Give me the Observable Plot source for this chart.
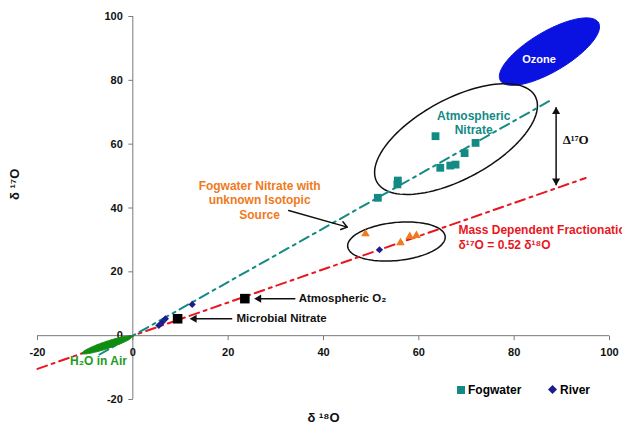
<!DOCTYPE html>
<html><head><meta charset="utf-8">
<script src="https://cdn.jsdelivr.net/npm/d3@7"></script>
<script src="https://cdn.jsdelivr.net/npm/@observablehq/plot@0.6"></script>
<style>
body{margin:0;background:#fff;font-family:"Liberation Sans",Arial,sans-serif;}
#chart{position:relative;width:622px;height:435px;overflow:hidden;}
.lg{position:absolute;top:382px;font-size:12px;font-weight:bold;color:#000;line-height:16px;white-space:nowrap;}
.sw{display:inline-block;vertical-align:middle;margin-right:3px;position:relative;top:-1px;}
</style></head><body><div id="chart"></div>
<script>
// ---- data ----
const xTicks = [-20, 0, 20, 40, 60, 80, 100];
const yTicks = [-20, 0, 20, 40, 60, 80, 100];

const fogwaterX = [51.4, 55.6, 55.5, 63.5, 64.5, 66.6, 67.7, 69.6, 71.9];
const fogwaterY = [43.2, 48.6, 47.4, 62.5, 52.6, 53.3, 53.6, 57.2, 60.4];

const riverX = [5.45, 6.15, 6.85, 12.45, 51.75];
const riverY = [3.2, 4.2, 5.3, 9.8, 26.9];

const unknownX = [48.8, 56.15, 58.1, 59.5];
const unknownY = [31.9, 29.1, 31.1, 31.4];

const sourceNames = ["Atmospheric O₂", "Microbial Nitrate"];
const sourceX = [23.5, 9.4];
const sourceY = [11.6, 5.3];

const atmLineX = [-7, 88.2];
const atmLineY = [-5.9, 74.2];
const mdfLineX = [-20, 95];
const mdfLineY = [-10.4, 49.4];

// ---- layout ----
const W = 622, H = 435, ML = 37, MR = 13, MT = 16, MB = 36;
const kx = (W - ML - MR) / 120, ky = (H - MT - MB) / 120; // px per unit

const teal = "#138a84", red = "#e8171f", orange = "#f07a1c", navy = "#1c1c8e", green = "#108c10", blue = "#0a12e2";

// annotation ellipses: centre in data units, semi-axes in px, tilt in degrees
const ellipses = [
  {name: "ozone", cx: 87.4, cy: 89.0, a: 57, b: 20, angle: 30.6},
  {name: "nitrate", cx: 67.8, cy: 61.6, a: 90, b: 40, angle: 28.4},
  {name: "fog", cx: 55.3, cy: 29.5, a: 49, b: 19, angle: 5.9},
  {name: "water", cx: -5.4, cy: -2.9, a: 26.4, b: 3.6, angle: 18.5}
];
function outline(e) {
  const th = e.angle * Math.PI / 180, pts = [];
  for (let i = 0; i <= 120; i++) {
    const t = 2 * Math.PI * i / 120;
    const dx = e.a * Math.cos(t) * Math.cos(th) + e.b * Math.sin(t) * Math.sin(th);
    const dy = -e.a * Math.cos(t) * Math.sin(th) + e.b * Math.sin(t) * Math.cos(th);
    pts.push({x: e.cx + dx / kx, y: e.cy - dy / ky});
  }
  return pts;
}
const E = Object.fromEntries(ellipses.map(e => [e.name, outline(e)]));

const fog = fogwaterX.map((x, i) => ({x, y: fogwaterY[i]}));
const river = riverX.map((x, i) => ({x, y: riverY[i]}));
const unknown = unknownX.map((x, i) => ({x, y: unknownY[i]}));
const sources = sourceNames.map((n, i) => ({name: n, x: sourceX[i], y: sourceY[i]}));
const atmLine = atmLineX.map((x, i) => ({x, y: atmLineY[i]}));
const mdfLine = mdfLineX.map((x, i) => ({x, y: mdfLineY[i]}));

const bold = {fontWeight: "bold", fontSize: 12};
const dash = "10,5,3,5";

const chart = Plot.plot({
  width: W, height: H,
  marginLeft: ML, marginRight: MR, marginTop: MT, marginBottom: MB,
  x: {domain: [-20, 100], axis: null},
  y: {domain: [-20, 100], axis: null},
  style: {fontFamily: "Liberation Sans, Arial, sans-serif", background: "white", overflow: "hidden"},
  marks: [
    // axes through the origin
    Plot.ruleY([0], {x1: -20, x2: 100, stroke: "#7a7a7a", strokeWidth: 1}),
    Plot.ruleX([0], {y1: -20, y2: 100, stroke: "#7a7a7a", strokeWidth: 1}),
    Plot.link(xTicks, {x1: d => d, x2: d => d, y1: 0, y2: -4.5 / ky, stroke: "#7a7a7a"}),
    Plot.link(yTicks, {y1: d => d, y2: d => d, x1: 0, x2: -4.5 / kx, stroke: "#7a7a7a"}),
    Plot.text(xTicks, {x: d => d, y: 0, text: d => String(d), dy: 17, fontSize: 11, fontWeight: "bold", fill: "#111"}),
    Plot.text(yTicks, {x: 0, y: d => d, text: d => String(d), dx: -10, textAnchor: "end", fontSize: 11, fontWeight: "bold", fill: "#111"}),
    Plot.text(["δ ¹⁸O"], {frameAnchor: "bottom", text: d => d, dy: 22, fontSize: 13, fontWeight: "bold", fill: "#111"}),
    Plot.text(["δ ¹⁷O"], {frameAnchor: "left", text: d => d, rotate: -90, dx: -23, dy: -8, fontSize: 13, fontWeight: "bold", fill: "#111"}),

    // shapes
    Plot.line(E.ozone, {x: "x", y: "y", fill: blue, stroke: blue, strokeWidth: 1}),
    Plot.line(E.nitrate, {x: "x", y: "y", stroke: "#111", strokeWidth: 1.5}),
    Plot.line(E.fog, {x: "x", y: "y", stroke: "#111", strokeWidth: 1.5}),

    // trend lines
    Plot.line(mdfLine, {x: "x", y: "y", stroke: red, strokeWidth: 2, strokeDasharray: dash}),
    Plot.line(atmLine, {x: "x", y: "y", stroke: teal, strokeWidth: 2, strokeDasharray: dash}),
    Plot.line(E.water, {x: "x", y: "y", fill: green, stroke: green, strokeWidth: 1}),

    // points
    Plot.dot(fog, {x: "x", y: "y", symbol: "square", r: 4.4, fill: teal}),
    Plot.dot(river, {x: "x", y: "y", symbol: "diamond2", r: 3.2, fill: navy}),
    Plot.dot(unknown, {x: "x", y: "y", symbol: "triangle", r: 3.2, fill: orange}),
    Plot.dot(sources, {x: "x", y: "y", symbol: "square", r: 5.4, fill: "#000"}),

    // arrows to sources
    Plot.link([{x1: 34.1, x2: 26.5, y: 11.6}, {x1: 20.85, x2: 13.0, y: 5.3}], {x1: "x1", x2: "x2", y1: "y", y2: "y", stroke: "#111", strokeWidth: 1.5}),
    Plot.dot([{x: 25.5, y: 11.6}, {x: 11.95, y: 5.3}], {x: "x", y: "y", symbol: "triangle", r: 3, rotate: -90, dx: 4.5, fill: "#111"}),
    Plot.text(["Atmospheric O₂"], {x: 34.8, y: 11.6, text: d => d, textAnchor: "start", ...bold, fontSize: 11.5, fill: "#111"}),
    Plot.text(["Microbial Nitrate"], {x: 21.75, y: 5.3, text: d => d, textAnchor: "start", ...bold, fontSize: 11.5, fill: "#111"}),

    // fogwater unknown annotation
    Plot.text(["Fogwater Nitrate with\nunknown Isotopic\nSource"], {x: 26.6, y: 42.6, text: d => d, lineHeight: 1.2, ...bold, fill: orange}),
    Plot.arrow([{x1: 32.7, y1: 39.2, x2: 45.0, y2: 34.0}], {x1: "x1", y1: "y1", x2: "x2", y2: "y2", stroke: "#111", strokeWidth: 1.5, headLength: 7, headAngle: 70}),

    // atmospheric nitrate & ozone labels
    Plot.text(["Atmospheric\nNitrate"], {x: 71.5, y: 66.8, text: d => d, lineHeight: 1.15, ...bold, fill: teal}),
    Plot.text(["Ozone"], {x: 85.2, y: 86.4, text: d => d, fontWeight: "bold", fontSize: 11, fill: "white"}),

    // Δ17O double arrow
    Plot.link([{x: 88.8, y1: 71.6, y2: 47.1}], {x1: "x", x2: "x", y1: "y1", y2: "y2", stroke: "#111", strokeWidth: 1.5}),
    Plot.dot([{x: 88.8, y: 71.6}], {x: "x", y: "y", symbol: "triangle", r: 3, dy: 4.5, fill: "#111"}),
    Plot.dot([{x: 88.8, y: 47.1}], {x: "x", y: "y", symbol: "triangle", r: 3, rotate: 180, dy: -4.5, fill: "#111"}),
    Plot.text(["Δ¹⁷O"], {x: 92.9, y: 61.4, text: d => d, fontFamily: "Liberation Serif, Times New Roman, serif", fontWeight: "bold", fontSize: 13, fill: "#111"}),

    // mass dependent fractionation
    Plot.text(["Mass Dependent Fractionation"], {x: 68.3, y: 33.2, text: d => d, textAnchor: "start", ...bold, fill: red}),
    Plot.text(["δ¹⁷O = 0.52 δ¹⁸O"], {x: 68.3, y: 28.3, text: d => d, textAnchor: "start", ...bold, fill: red}),

    // water
    Plot.text(["H₂O in Air"], {x: -7.2, y: -8.05, text: d => d, ...bold, fill: "#1f9a1f"})
  ]
});
const host = document.getElementById("chart");
host.appendChild(chart);

// legend (bottom right)
const lg1 = document.createElement("div");
lg1.className = "lg"; lg1.style.left = "457px";
lg1.innerHTML = `<svg class="sw" width="8" height="8"><rect width="8" height="8" fill="${teal}"/></svg>Fogwater`;
const lg2 = document.createElement("div");
lg2.className = "lg"; lg2.style.left = "548px";
lg2.innerHTML = `<svg class="sw" width="9" height="9"><path d="M4.5 0L9 4.5L4.5 9L0 4.5Z" fill="${navy}"/></svg>River`;
host.appendChild(lg1); host.appendChild(lg2);
</script>
</body></html>
